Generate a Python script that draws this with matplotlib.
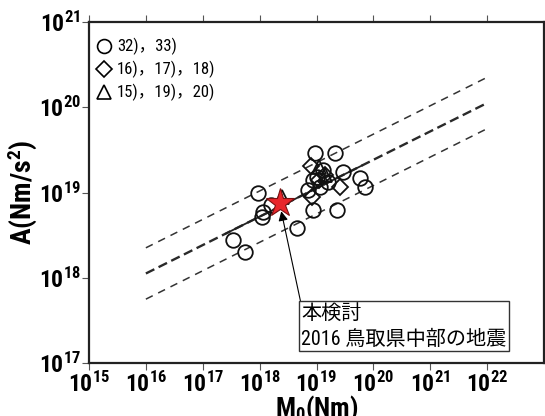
import numpy as np
import matplotlib
matplotlib.use('Agg')
import matplotlib.pyplot as plt
from matplotlib.ticker import FixedLocator, FixedFormatter, NullLocator

# log10 values
circle_m0 = [17.53, 17.74, 17.97, 18.06, 18.04, 18.20, 18.66, 18.94, 18.97, 19.32, 19.36,
             19.46, 19.76, 19.85, 19.11, 18.94, 18.85, 19.06, 19.00, 19.20]
circle_a = [18.44, 18.30, 19.00, 18.77, 18.71, 18.85, 18.58, 18.79, 19.46, 19.46, 18.79,
            19.24, 19.17, 19.06, 19.26, 19.15, 19.03, 19.06, 19.18, 19.12]
diamond_m0 = [18.90, 18.92, 19.41, 19.05, 19.15]
diamond_a = [19.31, 18.95, 19.06, 19.15, 19.20]
triangle_m0 = [18.39, 19.05, 19.15]
triangle_a = [18.95, 19.30, 19.20]
star_m0, star_a = 18.36, 18.88

# scaling law A = c * M0^(1/3), with factor-of-2 bounds
line_m0 = [16, 22]
line_c = 18.05  # log10 A at M0 = 1e16
fit_m0 = [17.4, 19.8]

xticks = [15, 16, 17, 18, 19, 20, 21, 22]
yticks = [17, 18, 19, 20, 21]

legend_labels = ['32)，33)', '16)，17)，18)', '15)，19)，20)']

narrow = 'Roboto Condensed'
plt.rcParams['mathtext.fontset'] = 'custom'
plt.rcParams['mathtext.rm'] = narrow + ':bold'
plt.rcParams['mathtext.it'] = narrow + ':bold'

fig = plt.figure(figsize=(5.45, 4.16), dpi=100)
ax = fig.add_axes([89 / 545, 1 - 363 / 416, (544 - 89) / 545, (363 - 22) / 416])

def law(m, shift=0.0):
    m = np.asarray(m, dtype=float)
    return 10 ** (line_c + (m - 16) / 3 + shift)

lm = 10.0 ** np.array(line_m0)
ax.plot(lm, law(line_m0, np.log10(2)), color='#333333', lw=1.1, dashes=(5, 4))
ax.plot(lm, law(line_m0), color='#2a2a2a', lw=1.7, dashes=(4, 2))
ax.plot(lm, law(line_m0, -np.log10(2)), color='#333333', lw=1.1, dashes=(5, 4))
ax.plot(10.0 ** np.array(fit_m0), law(fit_m0), color='#222222', lw=1.3)

ax.plot(10.0 ** np.array(circle_m0), 10.0 ** np.array(circle_a), 'o', ms=10.5,
        mfc='none', mec='#111111', mew=1.3)
ax.plot(10.0 ** np.array(diamond_m0), 10.0 ** np.array(diamond_a), 'D', ms=8,
        mfc='none', mec='#111111', mew=1.3)
ax.plot(10.0 ** np.array(triangle_m0), 10.0 ** np.array(triangle_a), '^', ms=10,
        mfc='none', mec='#111111', mew=1.3)
ax.plot(10 ** star_m0, 10 ** star_a, '*', ms=21, mfc='#e8262b', mec='#7a1010', mew=0.8,
        zorder=5)

# legend drawn by hand in axes fraction
leg_markers = ['o', 'D', '^']
leg_ms = [10, 8, 10]
for i, (mk, lab) in enumerate(zip(leg_markers, legend_labels)):
    yy = 0.93 - i * 0.068
    ax.plot(0.032, yy, mk, ms=leg_ms[i], mfc='none', mec='black', mew=1.2,
            transform=ax.transAxes, clip_on=False)
    ax.text(0.062, yy, lab, transform=ax.transAxes, va='center', ha='left',
            fontsize=12, family=[narrow, 'Noto Sans CJK JP'])

ax.annotate('本検討\n2016 鳥取県中部の地震', xy=(10 ** 18.38, 10 ** 18.78),
            xytext=(0.466, 0.042), textcoords='axes fraction', ha='left', va='bottom',
            fontsize=14.5, family=[narrow, 'Noto Sans CJK JP'], linespacing=1.45,
            bbox=dict(boxstyle='square,pad=0.12', fc='white', ec='#333333', lw=1),
            arrowprops=dict(arrowstyle='-|>', color='black', lw=0.8, relpos=(0, 1),
                            shrinkA=0, shrinkB=0, mutation_scale=14))

ax.set_xscale('log')
ax.set_yscale('log')
ax.set_xlim(1e15, 1e23)
ax.set_ylim(1e17, 1e21)
ax.xaxis.set_major_locator(FixedLocator([10.0 ** t for t in xticks]))
ax.xaxis.set_major_formatter(FixedFormatter(['$10^{%d}$' % t for t in xticks]))
ax.yaxis.set_major_locator(FixedLocator([10.0 ** t for t in yticks]))
ax.yaxis.set_major_formatter(FixedFormatter(['$10^{%d}$' % t for t in yticks]))
ax.xaxis.set_minor_locator(NullLocator())
ax.yaxis.set_minor_locator(NullLocator())
ax.tick_params(which='major', direction='out', length=5, width=0.8, color='#555555',
               labelsize=17, top=True, right=True, pad=1)

for s in ax.spines.values():
    s.set_linewidth(1.6)
    s.set_color('#222222')

ax.set_xlabel('M$_0$(Nm)', fontsize=19, family=narrow, fontweight='bold', labelpad=-2)
ax.set_ylabel('A(Nm/s$^2$)', fontsize=20, family=narrow, fontweight='bold', labelpad=0)

fig.savefig('out.png', dpi=100)
